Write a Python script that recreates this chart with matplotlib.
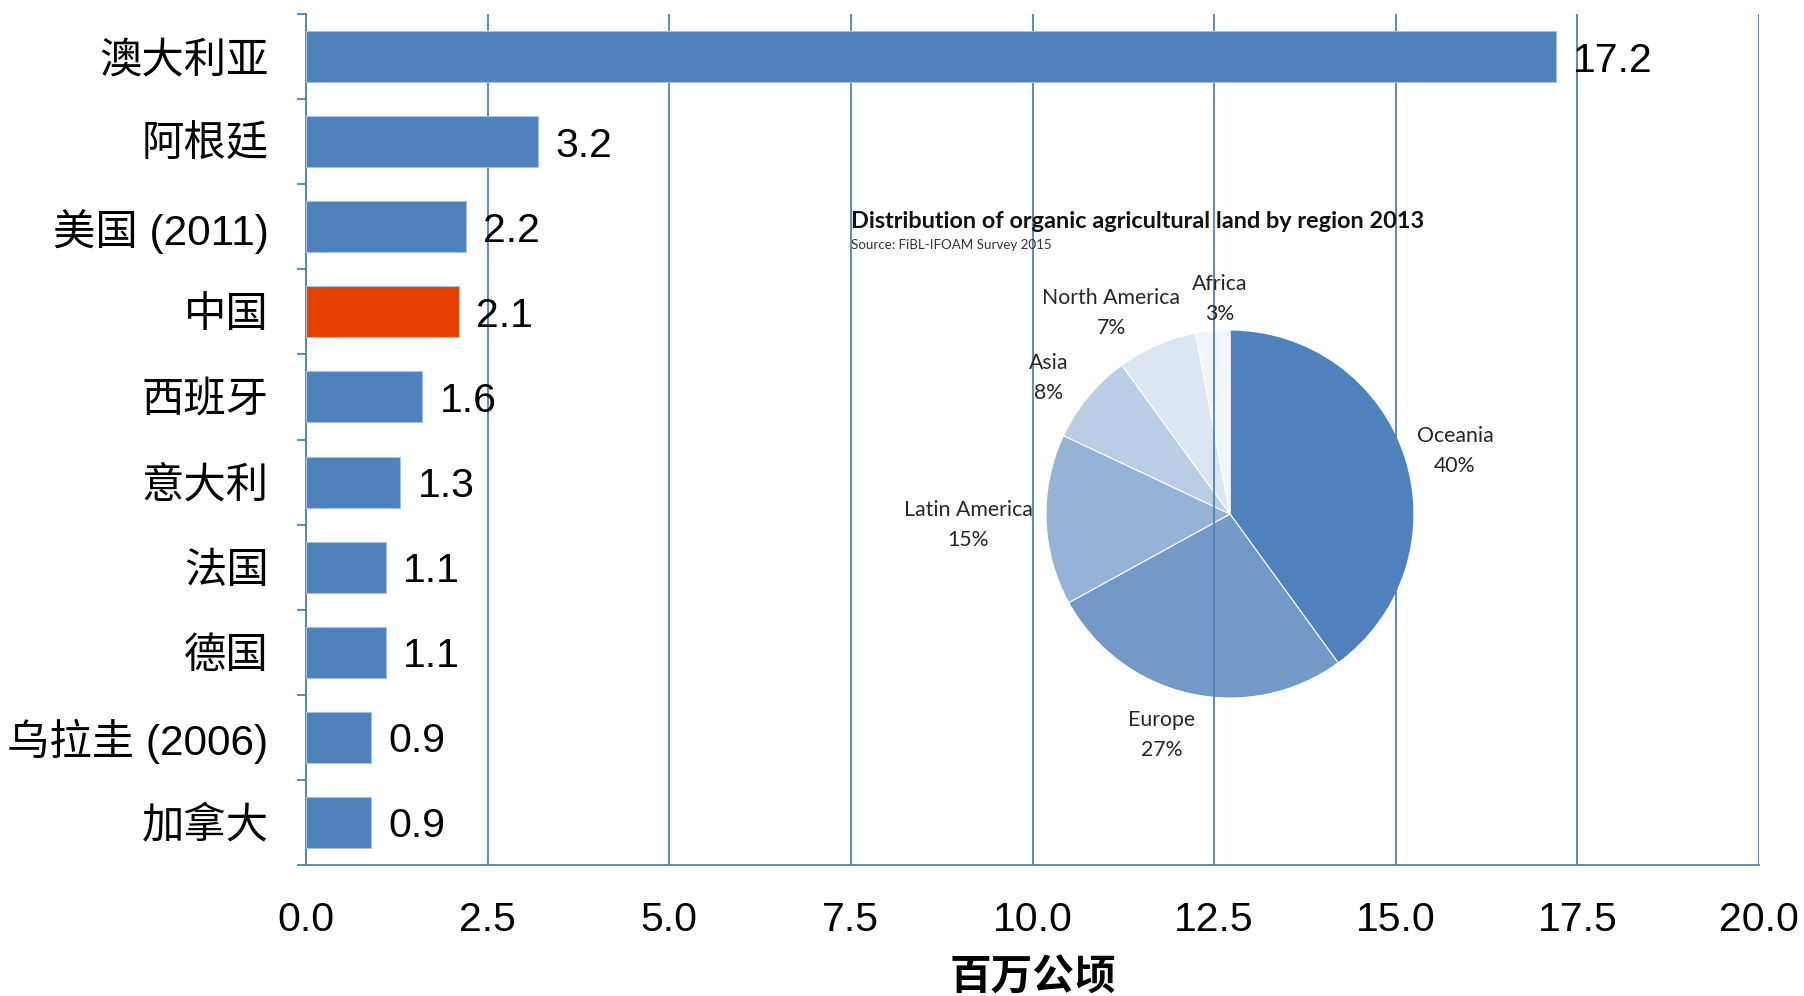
import matplotlib
matplotlib.use("Agg")
import matplotlib.pyplot as plt
from matplotlib.ticker import MultipleLocator

plt.rcParams['font.family'] = ['Liberation Sans', 'Noto Sans CJK SC', 'DejaVu Sans']

# --- Data ---
countries = ["澳大利亚", "阿根廷", "美国 (2011)", "中国", "西班牙",
             "意大利", "法国", "德国", "乌拉圭 (2006)", "加拿大"]
areas = [17.2, 3.2, 2.2, 2.1, 1.6, 1.3, 1.1, 1.1, 0.9, 0.9]
x_ticks = [0.0, 2.5, 5.0, 7.5, 10.0, 12.5, 15.0, 17.5, 20.0]

regions = ["Oceania", "Europe", "Latin America", "Asia", "North America", "Africa"]
shares = [40, 27, 15, 8, 7, 3]

BLUE = "#4F81BD"
RED = "#E64100"
pie_colors = ["#4F81BD", "#7399C9", "#95B3D7", "#B9CDE5", "#DCE6F2", "#F2F5FA"]
TXT = "#262626"

W, H = 1804, 996
fig = plt.figure(figsize=(W / 100, H / 100), dpi=100, facecolor="white")


def fx(px):
    return px / W


def fy(py):
    return 1 - py / H


# --- Pie inset (drawn behind the bar axes so grid lines cross it) ---
pc_x, pc_y, pr = 1230, 514, 184
pax = fig.add_axes([fx(pc_x - pr), fy(pc_y + pr), 2 * pr / W, 2 * pr / H], zorder=1)
pax.pie(shares, colors=pie_colors, startangle=90, counterclock=False,
        wedgeprops=dict(edgecolor="white", linewidth=0.8))
pax.set_xlim(-1, 1)
pax.set_ylim(-1, 1)
pax.set_aspect("equal")
pax.axis("off")

pie_font = ["Lato", "DejaVu Sans"]
fig.text(fx(851), fy(221), "Distribution of organic agricultural land by region 2013",
         fontsize=16.9, fontweight="bold", family=pie_font, color="#111111",
         ha="left", va="center", zorder=5)
fig.text(fx(851), fy(245), "Source: FiBL-IFOAM Survey 2015",
         fontsize=9.6, family=pie_font, color="#333333", ha="left", va="center", zorder=5)

label_pos = {
    "Oceania": (1455, 451),
    "Europe": (1162, 735),
    "Latin America": (968, 525),
    "Asia": (1049, 378),
    "North America": (1111, 313),
    "Africa": (1220, 299),
}
for name, pct in zip(regions, shares):
    x, y = label_pos[name]
    fig.text(fx(x), fy(y), f"{name}\n{pct}%", fontsize=15.3, family=pie_font,
             color=TXT, ha="center", va="center", linespacing=1.6, zorder=5)

# --- Bar chart ---
ax = fig.add_axes([fx(306), fy(865), (1759 - 306) / W, (865 - 14) / H], zorder=2)
ax.set_facecolor("none")
ypos = list(range(len(countries)))
bar_colors = [RED if c == "中国" else BLUE for c in countries]
ax.barh(ypos, areas, height=0.6, color=bar_colors, edgecolor="#A7C0DE",
        linewidth=0.8, zorder=3)
for y, v in zip(ypos, areas):
    ax.text(v + 0.24, y, f"{v:.1f}", va="center_baseline", ha="left", fontsize=29.5,
            color="black", zorder=4)

ax.set_ylim(len(countries) - 0.5, -0.5)
ax.set_xlim(0, 20)
ax.set_yticks(ypos)
ax.set_yticklabels(countries, fontsize=30.5)
ax.yaxis.set_minor_locator(MultipleLocator(1, offset=0.5))
ax.tick_params(axis="y", which="major", length=0, pad=27)
ax.tick_params(axis="y", which="minor", length=6.5, width=1.3, color=BLUE, direction="out")

ax.set_xticks(x_ticks)
ax.set_xticklabels([f"{t:.1f}" for t in x_ticks], fontsize=29.5)
ax.tick_params(axis="x", length=0, pad=26)
ax.set_xlabel("百万公顷", fontsize=30, fontweight="bold", labelpad=14)

ax.grid(axis="x", color=BLUE, linewidth=1.3, zorder=0)
ax.set_axisbelow(True)
for side in ["top", "right"]:
    ax.spines[side].set_visible(False)
for side in ["left", "bottom"]:
    ax.spines[side].set_color(BLUE)
    ax.spines[side].set_linewidth(1.3)

fig.savefig("out.png", dpi=100, facecolor="white")
